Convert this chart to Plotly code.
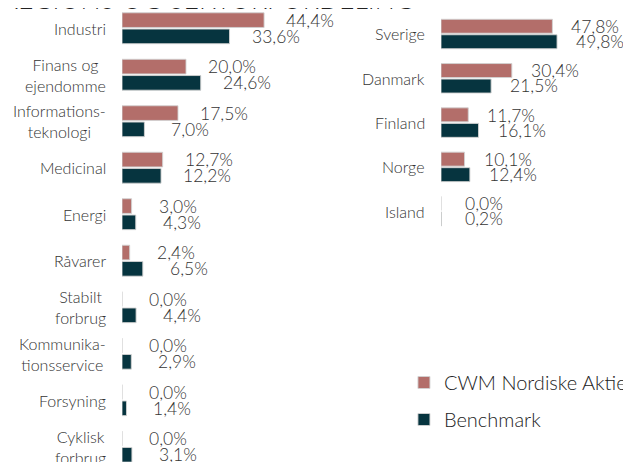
import plotly.graph_objects as go

# ---- data ----
sectors = ["Industri", "Finans og<br>ejendomme", "Informations-<br>teknologi", "Medicinal",
           "Energi", "Råvarer", "Stabilt<br>forbrug", "Kommunika-<br>tionsservice",
           "Forsyning", "Cyklisk<br>forbrug"]
sector_cwm = [44.4, 20.0, 17.5, 12.7, 3.0, 2.4, 0.0, 0.0, 0.0, 0.0]
sector_bench = [33.6, 24.6, 7.0, 12.2, 4.3, 6.5, 4.4, 2.9, 1.4, 3.1]

regions = ["Sverige", "Danmark", "Finland", "Norge", "Island"]
region_cwm = [47.8, 30.4, 11.7, 10.1, 0.0]
region_bench = [49.8, 21.5, 16.1, 12.4, 0.2]

series_names = ["CWM Nordiske Aktier", "Benchmark"]
title_text = "REGIONS OG SEKTORFORDELING"

# ---- style ----
C_CWM = "#b36e6a"
C_BENCH = "#06343f"
TXT = "#333333"
FONT = "Lato"
W, H = 631, 462


def fmt(v):
    return f"{v:.1f}".replace(".", ",") + "%"


fig = go.Figure()
edge = dict(color="rgba(210,210,210,0.9)", width=1)

fig.add_trace(go.Bar(y=sectors, x=sector_cwm, orientation="h", name=series_names[0],
                     marker=dict(color=C_CWM, line=edge), xaxis="x", yaxis="y",
                     legendgroup="a", hoverinfo="skip"))
fig.add_trace(go.Bar(y=sectors, x=sector_bench, orientation="h", name=series_names[1],
                     marker=dict(color=C_BENCH, line=edge), xaxis="x", yaxis="y",
                     legendgroup="b", hoverinfo="skip"))
fig.add_trace(go.Bar(y=regions, x=region_cwm, orientation="h", name=series_names[0],
                     marker=dict(color=C_CWM, line=edge), xaxis="x2", yaxis="y2",
                     showlegend=False, legendgroup="a", hoverinfo="skip"))
fig.add_trace(go.Bar(y=regions, x=region_bench, orientation="h", name=series_names[1],
                     marker=dict(color=C_BENCH, line=edge), xaxis="x2", yaxis="y2",
                     showlegend=False, legendgroup="b", hoverinfo="skip"))

annotations = []
cat_font = dict(family=FONT, size=16, color=TXT, weight=300)
val_font = dict(family=FONT, size=17.5, color=TXT, weight=300)
# value labels
for cats, cw, bm, xr, yr, xs, ys in [
    (sectors, sector_cwm, sector_bench, "x", "y", 46, 8),
    (regions, region_cwm, region_bench, "x2", "y2", 43, 7.5),
]:
    for c, a, b in zip(cats, cw, bm):
        annotations.append(dict(x=a, y=c, xref=xr, yref=yr, text=fmt(a), showarrow=False,
                                xanchor="center", yanchor="middle", xshift=xs, yshift=ys,
                                font=val_font))
        annotations.append(dict(x=b, y=c, xref=xr, yref=yr, text=fmt(b), showarrow=False,
                                xanchor="center", yanchor="middle", xshift=xs, yshift=-ys,
                                font=val_font))
    # category labels (centred multi-line, right-anchored)
    for c in cats:
        annotations.append(dict(x=0, y=c, xref=xr, yref=yr, text=c, showarrow=False,
                                xanchor="right", yanchor="middle", xshift=-14, align="center",
                                font=cat_font))

annotations.append(dict(x=0, y=1, xref="paper", yref="paper", text=title_text, showarrow=False,
                        xanchor="left", yanchor="bottom", xshift=-8, yshift=-9,
                        font=dict(family=FONT, size=26.5, color="#222222", weight=300)))

fig.update_layout(
    width=W, height=H,
    margin=dict(l=0, r=0, t=0, b=0),
    paper_bgcolor="white", plot_bgcolor="white",
    barmode="group", bargap=0.3, bargroupgap=0.1,
    font=dict(family=FONT, size=16, color=TXT),
    xaxis=dict(domain=[0.18067, 0.48494], range=[0, 60], visible=False, fixedrange=True),
    yaxis=dict(domain=[0, 1], type="category", categoryarray=sectors,
               range=[9.502, -0.4356], showticklabels=False, showgrid=False, zeroline=False,
               showline=False, ticks=""),
    xaxis2=dict(domain=[0.68621, 0.90777], range=[0, 60], visible=False, anchor="y2"),
    yaxis2=dict(domain=[0.51223, 0.99167], type="category", categoryarray=regions,
                range=[4.5, -0.5], showticklabels=False, showgrid=False, zeroline=False,
                showline=False, ticks="", anchor="x2"),
    legend=dict(x=0.6275, y=0.2316, xanchor="left", yanchor="top",
                font=dict(family=FONT, size=20, color="#222222", weight=300),
                tracegroupgap=8, bgcolor="rgba(0,0,0,0)"),
    annotations=annotations,
    showlegend=True,
)

fig.write_html("out.html")
